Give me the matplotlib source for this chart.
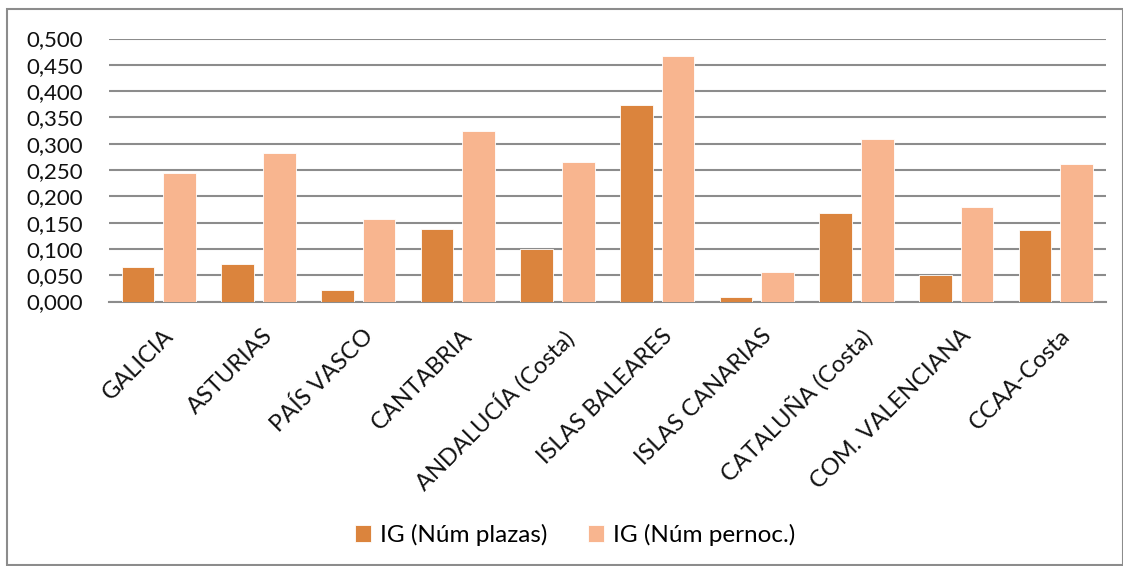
import matplotlib.pyplot as plt
from matplotlib.patches import Rectangle
from matplotlib.ticker import FuncFormatter, MultipleLocator
from matplotlib.transforms import ScaledTranslation
import numpy as np

regiones = ["GALICIA", "ASTURIAS", "PAÍS VASCO", "CANTABRIA", "ANDALUCÍA (Costa)",
            "ISLAS BALEARES", "ISLAS CANARIAS", "CATALUÑA (Costa)",
            "COM. VALENCIANA", "CCAA-Costa"]
ig_plazas = [0.065, 0.072, 0.021, 0.137, 0.100, 0.373, 0.009, 0.168, 0.050, 0.136]
ig_pernoc = [0.244, 0.282, 0.157, 0.325, 0.265, 0.467, 0.056, 0.308, 0.179, 0.261]

plt.rcParams['font.family'] = ['Lato', 'DejaVu Sans']

fig = plt.figure(figsize=(11.23, 5.66), dpi=100)
ax = fig.add_axes([109 / 1123, 1 - 301.5 / 566, (1105.7 - 109) / 1123, 263 / 566])

x = np.arange(len(regiones))
w = 0.33
off = 0.209
ax.bar(x - off, ig_plazas, w, color="#DB843D", edgecolor="white", linewidth=0.6,
       label="IG (Núm plazas)", zorder=3)
ax.bar(x + off, ig_pernoc, w, color="#F8B58F", edgecolor="white", linewidth=0.6,
       label="IG (Núm pernoc.)", zorder=3)

ax.set_xlim(-0.5, len(regiones) - 0.5)
ax.set_ylim(0, 0.5)
ax.yaxis.set_major_locator(MultipleLocator(0.05))
ax.yaxis.set_major_formatter(FuncFormatter(lambda v, p: f"{v:.3f}".replace(".", ",")))
ax.grid(axis="y", color="#8c8c8c", linewidth=1.5, zorder=0)
for s in ["top", "right", "left"]:
    ax.spines[s].set_visible(False)
ax.spines["bottom"].set_color("#8c8c8c")
ax.spines["bottom"].set_linewidth(1.5)
ax.tick_params(axis="both", length=0, colors="#111111")
ax.tick_params(axis="y", pad=19, labelsize=16)
ax.set_xticks(x)
ax.set_xticklabels(regiones, rotation=45, ha="right", rotation_mode="anchor")
ax.tick_params(axis="x", pad=17, labelsize=17)
shift = ScaledTranslation(4 / 100, 0, fig.dpi_scale_trans)
for lbl in ax.get_xticklabels():
    lbl.set_transform(lbl.get_transform() + shift)

# legend sits a little right of centre, under the plot
fig.legend(loc="center", bbox_to_anchor=(575 / 1123, 1 - 535 / 566), ncol=2, frameon=False,
           fontsize=17.5, handlelength=0.65, handleheight=0.65, columnspacing=1.7,
           handletextpad=0.35)

fig.patches.append(Rectangle((7 / 1123, 0.002), 1 - 7.5 / 1123, 1 - 9 / 566 - 0.002,
                             transform=fig.transFigure, fill=False,
                             edgecolor="#8c8c8c", linewidth=1.5))

fig.savefig("out.png", dpi=100)
